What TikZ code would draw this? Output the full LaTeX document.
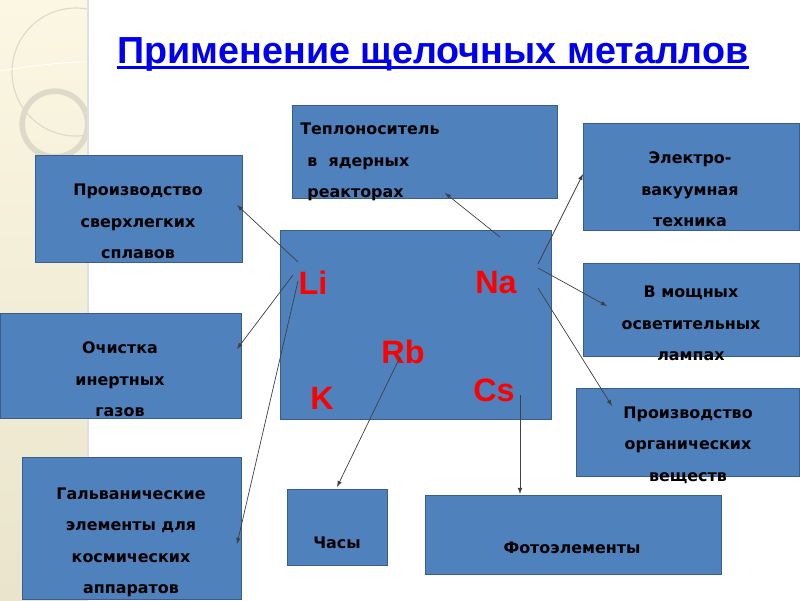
\documentclass[tikz,border=0pt]{standalone}
\usepackage{fontspec}
\setmainfont{DejaVu Sans}
\newfontfamily\titlefont{Liberation Sans}
\usetikzlibrary{arrows.meta}

\definecolor{boxblue}{HTML}{4F81BD}
\definecolor{boxedge}{HTML}{3A5E8C}
\definecolor{titleblue}{HTML}{0000EE}
\definecolor{stripTop}{HTML}{FCF7E2}
\definecolor{stripBot}{HTML}{EAE4CC}
\definecolor{ringgray}{HTML}{DEDAC9}

\begin{document}
\begin{tikzpicture}[>=latex, x=0.025cm, y=-0.025cm]
\tikzstyle{box}=[draw=boxedge, fill=boxblue, line width=0.6pt, rectangle, inner sep=0pt]
\tikzstyle{txt}=[font=\bfseries\fontsize{11.3}{22.4}\selectfont, align=center, text=black, inner sep=0pt]
\tikzstyle{elem}=[font=\titlefont\bfseries\fontsize{23}{23}\selectfont, text=red, inner sep=0pt]
\tikzstyle{link}=[->, draw=black!75, line width=0.5pt]

% slide background
\useasboundingbox (0,0) rectangle (800,600);
\fill[white] (0,0) rectangle (800,600);
\shade[top color=stripTop, bottom color=stripBot] (0,0) rectangle (88,600);
\draw[black!12, line width=1pt] (88,0) -- (88,600);
\begin{scope}
\clip (0,0) rectangle (87,600);
\draw[ringgray, line width=0.8pt] (76,72) circle (1.6cm);
\draw[white, line width=0.6pt] (0,71) .. controls (30,66) and (60,62) .. (88,62);
\draw[ringgray, line width=4pt] (55,124) circle (0.82cm);
\end{scope}

% title
\node[font=\titlefont\bfseries\fontsize{26.8}{30}\selectfont, text=titleblue, anchor=base, inner sep=0pt] (title) at (433,63) {Применение щелочных металлов};
\draw[titleblue, line width=1.6pt] ([yshift=-3.2pt]title.base west) -- ([yshift=-3.2pt]title.base east);

% boxes
\node[box, minimum width=5.175cm, minimum height=2.675cm] (alloy) at (138.5,208.5) {};
\node[box, minimum width=6.025cm, minimum height=2.625cm] (gases) at (120.5,365.5) {};
\node[box, minimum width=5.475cm, minimum height=3.55cm] (galv) at (131.5,528) {};
\node[box, minimum width=6.625cm, minimum height=2.325cm] (heat) at (424.5,151.5) {};
\node[box, minimum width=6.775cm, minimum height=4.725cm] (core) at (415.5,324.5) {};
\node[box, minimum width=5.4cm, minimum height=2.675cm] (vacuum) at (691,176.5) {};
\node[box, minimum width=5.4cm, minimum height=2.325cm] (lamps) at (691,309.5) {};
\node[box, minimum width=5.575cm, minimum height=2.2cm] (organic) at (687.5,432) {};
\node[box, minimum width=2.5cm, minimum height=1.9cm] (clock) at (337,527) {};
\node[box, minimum width=7.4cm, minimum height=1.975cm] (photo) at (573,534.5) {};

% box texts
\node[txt] (alloyT) at (138,221.5) {Производство\\сверхлегких\\сплавов};
\node[txt] (gasesT) at (120,379.5) {Очистка\\инертных\\газов};
\node[txt] (galvT) at (131,542.5) {Гальванические\\элементы для\\космических\\аппаратов};
\node[txt, align=left, anchor=west] (heatT) at (300,162) {Теплоноситель\\\hspace*{0.45em}в\ \ ядерных\\\hspace*{0.45em}реакторах};
\node[txt] (vacuumT) at (690,189.5) {Электро-\\вакуумная\\техника};
\node[txt] (lampsT) at (691,323.5) {В мощных\\осветительных\\лампах};
\node[txt] (organicT) at (688,445) {Производство\\органических\\веществ};
\node[txt] (clockT) at (337,543) {Часы};
\node[txt] (photoT) at (572,548) {Фотоэлементы};

% metals
\node[elem] (li) at (313,283) {Li};
\node[elem] (na) at (496,283) {Na};
\node[elem] (rb) at (403,352) {Rb};
\node[elem] (k) at (322,398) {K};
\node[elem] (cs) at (494,390) {Cs};

% arrow ends
\coordinate (liA) at (298,262);
\coordinate (liB) at (293,275);
\coordinate (liC) at (298,281);
\coordinate (naA) at (500,237);
\coordinate (naB) at (538,264);
\coordinate (naC) at (538,268);
\coordinate (naD) at (538,288);
\coordinate (rbS) at (400,357);
\coordinate (csS) at (520,395);
\coordinate (alloyE) at (237,205);
\coordinate (gasesE) at (237,349);
\coordinate (galvE) at (237,544);
\coordinate (heatE) at (445,193);
\coordinate (vacuumE) at (583,174);
\coordinate (lampsE) at (607,306);
\coordinate (organicE) at (612,406);
\coordinate (clockE) at (337,487);
\coordinate (photoE) at (520,494);

\draw[link] (liA) -- (alloyE);
\draw[link] (liB) -- (gasesE);
\draw[link] (liC) -- (galvE);
\draw[link] (naA) -- (heatE);
\draw[link] (naB) -- (vacuumE);
\draw[link] (naC) -- (lampsE);
\draw[link] (naD) -- (organicE);
\draw[link] (rbS) -- (clockE);
\draw[link] (csS) -- (photoE);
\end{tikzpicture}
\end{document}
